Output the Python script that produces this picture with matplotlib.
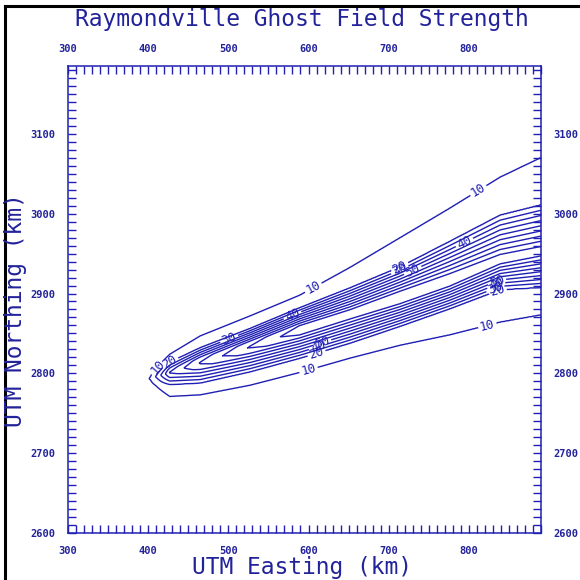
import numpy as np
import matplotlib
matplotlib.use("Agg")
import matplotlib.pyplot as plt
from matplotlib.ticker import MultipleLocator
from matplotlib.lines import Line2D

# ======= colours / font =======
LINE = "#1f1fb4"
TXT = "#22229a"
plt.rcParams["font.family"] = ["DejaVu Sans Mono", "DejaVu Sans"]

# ======= plume =======
# stations along the plume (UTM easting, km)
station_e = [390, 427, 465, 527, 589, 652, 714, 776, 839, 895]
# northing (km) where each contour crosses the station
north_lo10  = [2781, 2771, 2773, 2785, 2801, 2819, 2835, 2848, 2864, 2874]
north_lo20  = [2785, 2786, 2788, 2802, 2819, 2838, 2859, 2881, 2905, 2908]
north_locor = [2789, 2797, 2807, 2827, 2848, 2868, 2887, 2909, 2937, 2948]
north_axis  = [2790, 2801, 2813, 2833, 2854, 2874, 2895, 2917, 2943, 2954]
north_upcor = [2791, 2805, 2819, 2839, 2860, 2880, 2903, 2925, 2949, 2960]
north_up20  = [2795, 2814, 2832, 2856, 2882, 2907, 2933, 2965, 2998, 3012]
north_up10  = [2798, 2824, 2847, 2872, 2898, 2933, 2970, 3007, 3046, 3073]
# value on the core edge and the tip fade-in
core_val = [20, 45, 65, 85, 100, 100, 100, 100, 100, 100]
strength = [0.0, 1.0, 1.0, 1.0, 1.0, 1.0, 1.0, 1.0, 1.0, 1.0]
AXIS_GAIN = 6   # axis value above the core edge
EDGE = 10       # km beyond the 10 line where the field is zero

levels = [10, 20, 30, 40, 50, 60, 70, 80, 90, 100]

# contour labels (level, easting, northing)
label_lev = [10, 10, 20, 30, 50, 40, 50, 40, 30, 20, 10, 40, 50, 40, 20, 10, 10, 20, 30]
label_e   = [811, 824, 714, 718, 736, 799, 830, 830, 830, 835, 608, 586, 612, 608, 610, 598, 415, 431, 502]
label_n   = [3030, 2857, 2932, 2922, 2915, 2955, 2929, 2920, 2914, 2905, 2905, 2858, 2855, 2845, 2827, 2811, 2805, 2807, 2840]

xtick_vals = [300, 400, 500, 600, 700, 800]
ytick_vals = [2600, 2700, 2800, 2900, 3000, 3100]


def build_field(xs, ys):
    z = np.zeros((ys.size, xs.size))
    for j, x in enumerate(xs):
        lo10 = np.interp(x, station_e, north_lo10)
        up10 = np.interp(x, station_e, north_up10)
        xp = [lo10 - EDGE, lo10,
              np.interp(x, station_e, north_lo20),
              np.interp(x, station_e, north_locor),
              np.interp(x, station_e, north_axis),
              np.interp(x, station_e, north_upcor),
              np.interp(x, station_e, north_up20),
              up10, up10 + EDGE]
        c = np.interp(x, station_e, core_val)
        fp = [0, 10, 20, c, c + AXIS_GAIN, c, 20, 10, 0]
        a = np.interp(x, station_e, strength, left=0.0)
        z[:, j] = a * np.interp(ys, xp, fp, left=0.0, right=0.0)
    return z


def snap_to_level(cs, lev, e, n):
    # nearest vertex on the wanted level, so clabel picks that line
    segs = cs.allsegs[levels.index(lev)]
    pts = np.concatenate([s for s in segs if len(s)])
    d = (pts[:, 0] - e) ** 2 + (pts[:, 1] - n) ** 2
    return tuple(pts[np.argmin(d)])


def main():
    xs = np.arange(300, 891, 1.0)
    ys = np.arange(2600, 3186, 1.0)
    z = build_field(xs, ys)

    fig = plt.figure(figsize=(5.8, 5.8), dpi=100)
    ax = fig.add_axes([68 / 580, 47 / 580, 473 / 580, 467 / 580])

    cs = ax.contour(xs, ys, z, levels=levels, colors=LINE, linewidths=1.0)
    ax.set_xlim(300, 890)
    ax.set_ylim(2600, 3185)

    spots = [snap_to_level(cs, lev, e, n)
             for lev, e, n in zip(label_lev, label_e, label_n)]
    ax.clabel(cs, levels=levels, manual=spots, inline=True, fmt="%d",
              fontsize=9, colors=LINE, inline_spacing=2)

    ax.set_xticks(xtick_vals, [str(v) for v in xtick_vals], fontweight="bold")
    ax.set_yticks(ytick_vals, [str(v) for v in ytick_vals], fontweight="bold")
    ax.xaxis.set_minor_locator(MultipleLocator(10))
    ax.yaxis.set_minor_locator(MultipleLocator(10))
    ax.tick_params(which="both", direction="in", top=True, right=True,
                   labeltop=True, labelright=True, length=5.5, width=1.0,
                   color=LINE, labelcolor=TXT, labelsize=7.5, pad=9)
    for sp in ax.spines.values():
        sp.set_color(LINE)
        sp.set_linewidth(1.1)

    fig.text(0.52, 0.967, "Raymondville Ghost Field Strength", ha="center",
             va="center", fontsize=16.5, color=TXT)
    fig.text(0.52, 0.022, "UTM Easting (km)", ha="center", va="center",
             fontsize=16.5, color=TXT)
    fig.text(0.026, 0.466, "UTM Northing (km)", ha="center", va="center",
             rotation=90, fontsize=16.5, color=TXT)

    # page frame (left and top edge)
    fig.add_artist(Line2D([4.5 / 580, 4.5 / 580], [0, 1 - 5.5 / 580],
                          transform=fig.transFigure, color="black", lw=2.2))
    fig.add_artist(Line2D([4.5 / 580, 1], [1 - 5.5 / 580, 1 - 5.5 / 580],
                          transform=fig.transFigure, color="black", lw=2.2))

    fig.savefig("out.png", dpi=100)
    plt.close(fig)


if __name__ == "__main__":
    main()
